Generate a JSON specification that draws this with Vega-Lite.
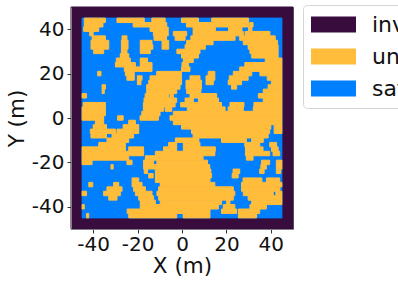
{"$schema":"https://vega.github.io/schema/vega-lite/v6.json","width":222,"height":222,"autosize":{"type":"none"},"padding":{"left":71,"top":7,"right":105,"bottom":54},"background":"white","config":{"font":"DejaVu Sans","view":{"stroke":"#7f7f7f"}},"datasets":{"runs":[
{"s":"invalid","a":-50,"b":50,"c":-50,"d":50},
{"s":"safe","a":-45,"b":45,"c":-45,"d":45},
{"s":"unsafe","a":-44,"b":-34.5,"c":43,"d":45},{"s":"unsafe","a":-29.3,"b":-17,"c":43,"d":45},{"s":"unsafe","a":-13.6,"b":-7.6,"c":43,"d":45},{"s":"unsafe","a":-0.2,"b":7.4,"c":43,"d":45},{"s":"unsafe","a":13.4,"b":30,"c":43,"d":45},
{"s":"unsafe","a":-44,"b":-35.6,"c":41,"d":43},{"s":"unsafe","a":-22,"b":-6.9,"c":41,"d":43},{"s":"unsafe","a":2,"b":30,"c":41,"d":43},{"s":"unsafe","a":30.5,"b":32,"c":41,"d":43},
{"s":"unsafe","a":-44.3,"b":-37.5,"c":39,"d":41},{"s":"unsafe","a":-14.4,"b":-6.2,"c":39,"d":41},{"s":"unsafe","a":5,"b":15,"c":39,"d":41},{"s":"unsafe","a":21,"b":27,"c":39,"d":41},{"s":"unsafe","a":30,"b":31.5,"c":39,"d":41},
{"s":"unsafe","a":-41.6,"b":-40,"c":37,"d":39},{"s":"unsafe","a":-12.9,"b":-6.2,"c":37,"d":39},{"s":"unsafe","a":-3.9,"b":2.1,"c":37,"d":39},{"s":"unsafe","a":5,"b":27.6,"c":37,"d":39},{"s":"unsafe","a":28.4,"b":39.6,"c":37,"d":39},
{"s":"unsafe","a":-40.5,"b":-34.5,"c":35,"d":37},{"s":"unsafe","a":-27,"b":-24.8,"c":35,"d":37},{"s":"unsafe","a":-12.6,"b":-7,"c":35,"d":37},{"s":"unsafe","a":-3.1,"b":1.4,"c":35,"d":37},{"s":"unsafe","a":4,"b":23.9,"c":35,"d":37},{"s":"unsafe","a":26,"b":42,"c":35,"d":37},
{"s":"unsafe","a":-41,"b":-33,"c":33,"d":35},{"s":"unsafe","a":-27.3,"b":-24.3,"c":33,"d":35},{"s":"unsafe","a":-18.8,"b":-13.5,"c":33,"d":35},{"s":"unsafe","a":-9,"b":-6,"c":33,"d":35},{"s":"unsafe","a":2.1,"b":14,"c":33,"d":35},{"s":"unsafe","a":27.6,"b":43,"c":33,"d":35},
{"s":"unsafe","a":-41,"b":-33,"c":31,"d":33},{"s":"unsafe","a":-27.3,"b":-24.3,"c":31,"d":33},{"s":"unsafe","a":-18.8,"b":-13.1,"c":31,"d":33},{"s":"unsafe","a":-9,"b":-6,"c":31,"d":33},{"s":"unsafe","a":1.4,"b":10.5,"c":31,"d":33},{"s":"unsafe","a":29.8,"b":43.3,"c":31,"d":33},
{"s":"unsafe","a":-39.8,"b":-35.3,"c":29,"d":31},{"s":"unsafe","a":-27.3,"b":-24.8,"c":29,"d":31},{"s":"unsafe","a":-18.8,"b":-14.3,"c":29,"d":31},{"s":"unsafe","a":-2.3,"b":8.1,"c":29,"d":31},{"s":"unsafe","a":30.6,"b":43.3,"c":29,"d":31},
{"s":"unsafe","a":-27.8,"b":-24,"c":27,"d":29},{"s":"unsafe","a":-0.2,"b":7.4,"c":27,"d":29},{"s":"unsafe","a":31.4,"b":43.3,"c":27,"d":29},
{"s":"unsafe","a":-29.6,"b":-23.3,"c":25,"d":27},{"s":"unsafe","a":-18.8,"b":-15.5,"c":25,"d":27},{"s":"unsafe","a":0.6,"b":5.1,"c":25,"d":27},{"s":"unsafe","a":37.5,"b":45,"c":25,"d":27},
{"s":"unsafe","a":-30,"b":-21,"c":23,"d":25},{"s":"unsafe","a":-18.8,"b":-13.5,"c":23,"d":25},{"s":"unsafe","a":0,"b":2.9,"c":23,"d":25},{"s":"unsafe","a":28.3,"b":45,"c":23,"d":25},
{"s":"unsafe","a":-26,"b":-13.5,"c":21,"d":23},{"s":"unsafe","a":-0.2,"b":3.6,"c":21,"d":23},{"s":"unsafe","a":26,"b":45,"c":21,"d":23},
{"s":"unsafe","a":-38,"b":-36.5,"c":19,"d":21},{"s":"unsafe","a":-25.5,"b":-21.5,"c":19,"d":21},{"s":"unsafe","a":-11.4,"b":-0.2,"c":19,"d":21},{"s":"unsafe","a":11.8,"b":14.8,"c":19,"d":21},{"s":"unsafe","a":23.1,"b":31.4,"c":19,"d":21},{"s":"unsafe","a":35.1,"b":45,"c":19,"d":21},
{"s":"unsafe","a":-24.8,"b":-21.5,"c":17,"d":19},{"s":"unsafe","a":-20.1,"b":-18,"c":17,"d":19},{"s":"unsafe","a":-14.4,"b":-0.2,"c":17,"d":19},{"s":"unsafe","a":3.6,"b":8.1,"c":17,"d":19},{"s":"unsafe","a":10.8,"b":14.8,"c":17,"d":19},{"s":"unsafe","a":21.3,"b":29.8,"c":17,"d":19},{"s":"unsafe","a":38.4,"b":45,"c":17,"d":19},
{"s":"unsafe","a":-20.1,"b":-18.5,"c":15,"d":17},{"s":"unsafe","a":-15,"b":-0.2,"c":15,"d":17},{"s":"unsafe","a":1.8,"b":8.8,"c":15,"d":17},{"s":"unsafe","a":10.8,"b":14.1,"c":15,"d":17},{"s":"unsafe","a":20.8,"b":26.8,"c":15,"d":17},{"s":"unsafe","a":40.3,"b":45,"c":15,"d":17},
{"s":"unsafe","a":-36,"b":-34.5,"c":13,"d":15},{"s":"unsafe","a":-15.9,"b":-0.9,"c":13,"d":15},{"s":"unsafe","a":1.8,"b":8.8,"c":13,"d":15},{"s":"unsafe","a":22.3,"b":24.6,"c":13,"d":15},{"s":"unsafe","a":38.8,"b":45,"c":13,"d":15},
{"s":"unsafe","a":-36,"b":-35,"c":11,"d":13},{"s":"unsafe","a":-15.9,"b":-2.4,"c":11,"d":13},{"s":"unsafe","a":2.1,"b":8.5,"c":11,"d":13},{"s":"unsafe","a":36.6,"b":45,"c":11,"d":13},
{"s":"unsafe","a":-45,"b":-43,"c":9,"d":11},{"s":"unsafe","a":-16.6,"b":-6.1,"c":9,"d":11},{"s":"unsafe","a":-5.4,"b":-3.9,"c":9,"d":11},{"s":"unsafe","a":3.6,"b":15.6,"c":9,"d":11},{"s":"unsafe","a":34.4,"b":45,"c":9,"d":11},
{"s":"unsafe","a":-17.1,"b":-2.4,"c":7,"d":9},{"s":"unsafe","a":1.4,"b":5.1,"c":7,"d":9},{"s":"unsafe","a":7.4,"b":16.4,"c":7,"d":9},{"s":"unsafe","a":36.6,"b":45,"c":7,"d":9},
{"s":"unsafe","a":-44.5,"b":-34.5,"c":5,"d":7},{"s":"unsafe","a":-17.4,"b":-3.1,"c":5,"d":7},{"s":"unsafe","a":-0.6,"b":17.8,"c":5,"d":7},{"s":"unsafe","a":21.6,"b":27.9,"c":5,"d":7},{"s":"unsafe","a":32.4,"b":45,"c":5,"d":7},
{"s":"unsafe","a":-45,"b":-34.5,"c":3,"d":5},{"s":"unsafe","a":-17.4,"b":-8.4,"c":3,"d":5},{"s":"unsafe","a":-7.6,"b":-4.6,"c":3,"d":5},{"s":"unsafe","a":2.4,"b":19.4,"c":3,"d":5},{"s":"unsafe","a":20.8,"b":27.6,"c":3,"d":5},{"s":"unsafe","a":32.1,"b":45,"c":3,"d":5},
{"s":"unsafe","a":-45,"b":-34.5,"c":1,"d":3},{"s":"unsafe","a":-18.1,"b":-9.9,"c":1,"d":3},{"s":"unsafe","a":-3.9,"b":45,"c":1,"d":3},
{"s":"unsafe","a":-45,"b":-35.3,"c":-1,"d":1},{"s":"unsafe","a":-29,"b":-26.5,"c":-1,"d":1},{"s":"unsafe","a":-18.9,"b":-10.6,"c":-1,"d":1},{"s":"unsafe","a":-5.4,"b":45,"c":-1,"d":1},
{"s":"unsafe","a":-39,"b":-35.3,"c":-3,"d":-1},{"s":"unsafe","a":-24,"b":-21,"c":-3,"d":-1},{"s":"unsafe","a":-3.9,"b":45,"c":-3,"d":-1},
{"s":"unsafe","a":-40,"b":-34,"c":-5,"d":-3},{"s":"unsafe","a":-26.5,"b":-19.5,"c":-5,"d":-3},{"s":"unsafe","a":-0.2,"b":40,"c":-5,"d":-3},{"s":"unsafe","a":41.5,"b":45,"c":-5,"d":-3},
{"s":"unsafe","a":-41.3,"b":-30,"c":-7,"d":-5},{"s":"unsafe","a":-29.3,"b":-19.5,"c":-7,"d":-5},{"s":"unsafe","a":4.3,"b":39.5,"c":-7,"d":-5},{"s":"unsafe","a":41.5,"b":45,"c":-7,"d":-5},
{"s":"unsafe","a":-41,"b":-34,"c":-9,"d":-7},{"s":"unsafe","a":-31.5,"b":-21.8,"c":-9,"d":-7},{"s":"unsafe","a":5,"b":38.8,"c":-9,"d":-7},
{"s":"unsafe","a":-33.8,"b":-24,"c":-11,"d":-9},{"s":"unsafe","a":-3,"b":7.6,"c":-11,"d":-9},{"s":"unsafe","a":17.8,"b":29,"c":-11,"d":-9},{"s":"unsafe","a":31.4,"b":36.6,"c":-11,"d":-9},
{"s":"unsafe","a":-37.5,"b":-25.5,"c":-13,"d":-11},{"s":"unsafe","a":-6,"b":-2.4,"c":-13,"d":-11},{"s":"unsafe","a":0.6,"b":8.1,"c":-13,"d":-11},{"s":"unsafe","a":28.3,"b":35,"c":-13,"d":-11},{"s":"unsafe","a":39.5,"b":42.6,"c":-13,"d":-11},
{"s":"unsafe","a":-45,"b":-25.5,"c":-15,"d":-13},{"s":"unsafe","a":-24,"b":-17.3,"c":-15,"d":-13},{"s":"unsafe","a":-8.3,"b":-2.4,"c":-15,"d":-13},{"s":"unsafe","a":0.6,"b":15,"c":-15,"d":-13},{"s":"unsafe","a":28.6,"b":36.5,"c":-15,"d":-13},{"s":"unsafe","a":40.3,"b":43.3,"c":-15,"d":-13},
{"s":"unsafe","a":-45,"b":-17.3,"c":-17,"d":-15},{"s":"unsafe","a":-12,"b":14.8,"c":-17,"d":-15},{"s":"unsafe","a":28.6,"b":39.5,"c":-17,"d":-15},{"s":"unsafe","a":41,"b":44,"c":-17,"d":-15},
{"s":"unsafe","a":-45,"b":-24,"c":-19,"d":-17},{"s":"unsafe","a":-16.5,"b":9.5,"c":-19,"d":-17},{"s":"unsafe","a":29,"b":32,"c":-19,"d":-17},
{"s":"unsafe","a":-45,"b":-40.5,"c":-21,"d":-19},{"s":"unsafe","a":-24.8,"b":-22.5,"c":-21,"d":-19},{"s":"unsafe","a":-17.3,"b":-12.8,"c":-21,"d":-19},{"s":"unsafe","a":-11.3,"b":11.5,"c":-21,"d":-19},{"s":"unsafe","a":35.8,"b":39.5,"c":-21,"d":-19},{"s":"unsafe","a":42.5,"b":45,"c":-21,"d":-19},
{"s":"unsafe","a":-32,"b":-31,"c":-23,"d":-21},{"s":"unsafe","a":-17.3,"b":12.5,"c":-23,"d":-21},{"s":"unsafe","a":35.5,"b":38,"c":-23,"d":-21},{"s":"unsafe","a":42.5,"b":45,"c":-23,"d":-21},
{"s":"unsafe","a":-17,"b":-15.5,"c":-25,"d":-23},{"s":"unsafe","a":-12,"b":13,"c":-25,"d":-23},{"s":"unsafe","a":23,"b":26,"c":-25,"d":-23},{"s":"unsafe","a":35,"b":37,"c":-25,"d":-23},{"s":"unsafe","a":42.5,"b":44.5,"c":-25,"d":-23},
{"s":"unsafe","a":-15,"b":-13,"c":-27,"d":-25},{"s":"unsafe","a":-12,"b":13.3,"c":-27,"d":-25},{"s":"unsafe","a":22.6,"b":25.3,"c":-27,"d":-25},
{"s":"unsafe","a":-22.5,"b":-19.5,"c":-29,"d":-27},{"s":"unsafe","a":-12,"b":12.6,"c":-29,"d":-27},{"s":"unsafe","a":27.5,"b":36,"c":-29,"d":-27},{"s":"unsafe","a":38,"b":44,"c":-29,"d":-27},
{"s":"unsafe","a":-42,"b":-40.2,"c":-31,"d":-29},{"s":"unsafe","a":-30.8,"b":-28.5,"c":-31,"d":-29},{"s":"unsafe","a":-22.5,"b":-18,"c":-31,"d":-29},{"s":"unsafe","a":-9.8,"b":14.8,"c":-31,"d":-29},{"s":"unsafe","a":26.8,"b":45,"c":-31,"d":-29},
{"s":"unsafe","a":-33.8,"b":-27,"c":-33,"d":-31},{"s":"unsafe","a":-21.8,"b":-16.5,"c":-33,"d":-31},{"s":"unsafe","a":-10.5,"b":23.1,"c":-33,"d":-31},{"s":"unsafe","a":26.8,"b":44.1,"c":-33,"d":-31},
{"s":"unsafe","a":-45,"b":-43,"c":-35,"d":-33},{"s":"unsafe","a":-35.3,"b":-27.8,"c":-35,"d":-33},{"s":"unsafe","a":-21,"b":-13.5,"c":-35,"d":-33},{"s":"unsafe","a":-11.3,"b":23.8,"c":-35,"d":-33},{"s":"unsafe","a":27.6,"b":41.1,"c":-35,"d":-33},{"s":"unsafe","a":42.3,"b":45,"c":-35,"d":-33},
{"s":"unsafe","a":-33,"b":-29.3,"c":-37,"d":-35},{"s":"unsafe","a":-19.5,"b":-12.8,"c":-37,"d":-35},{"s":"unsafe","a":-10.5,"b":23.1,"c":-37,"d":-35},{"s":"unsafe","a":29.8,"b":45,"c":-37,"d":-35},
{"s":"unsafe","a":-18.8,"b":-12,"c":-39,"d":-37},{"s":"unsafe","a":-9.8,"b":17.8,"c":-39,"d":-37},{"s":"unsafe","a":20.1,"b":21.6,"c":-39,"d":-37},{"s":"unsafe","a":31.4,"b":45,"c":-39,"d":-37},
{"s":"unsafe","a":-45,"b":-44,"c":-41,"d":-39},{"s":"unsafe","a":-18.8,"b":16.4,"c":-41,"d":-39},{"s":"unsafe","a":18.6,"b":23.8,"c":-41,"d":-39},{"s":"unsafe","a":30.6,"b":38,"c":-41,"d":-39},
{"s":"unsafe","a":-24.7,"b":12.6,"c":-43,"d":-41},{"s":"unsafe","a":17.8,"b":24.6,"c":-43,"d":-41},{"s":"unsafe","a":25.4,"b":35,"c":-43,"d":-41},
{"s":"unsafe","a":-43,"b":-42,"c":-45,"d":-43},{"s":"unsafe","a":-24,"b":-2.4,"c":-45,"d":-43},{"s":"unsafe","a":0.5,"b":12.6,"c":-45,"d":-43},{"s":"unsafe","a":25.4,"b":33.6,"c":-45,"d":-43}
]},"data":{"name":"runs"},"mark":{"type":"rect","strokeWidth":1},"encoding":{
"x":{"field":"a","type":"quantitative","scale":{"domain":[-50,50],"nice":false,"zero":false},"axis":{"values":[-40,-20,0,20,40],"grid":false,"labelExpr":"''+datum.value","labelFontSize":20,"labelColor":"#111","tickColor":"#333","tickSize":4,"domainColor":"#7f7f7f","title":"X (m)","titleFontSize":21.5,"titleFontWeight":"normal","titleColor":"#111","titlePadding":1,"labelPadding":1,"labelFlush":false,"zindex":1}},
"x2":{"field":"b"},
"y":{"field":"c","type":"quantitative","scale":{"domain":[-50,50],"nice":false,"zero":false},"axis":{"values":[-40,-20,0,20,40],"grid":false,"labelExpr":"''+datum.value","labelFontSize":20,"labelColor":"#111","tickColor":"#333","tickSize":4,"domainColor":"#7f7f7f","title":"Y (m)","titleFontSize":21.5,"titleFontWeight":"normal","titleColor":"#111","titlePadding":3,"labelPadding":3,"zindex":1}},
"y2":{"field":"d"},
"stroke":{"field":"s","type":"nominal","scale":{"domain":["invalid","unsafe","safe"],"range":["#380d3e","#ffbd3b","#0080ff"]},"legend":null},
"color":{"field":"s","type":"nominal","scale":{"domain":["invalid","unsafe","safe"],"range":["#380d3e","#ffbd3b","#0080ff"]},"legend":{"title":null,"orient":"none","legendX":232,"legendY":-2,"symbolType":"M-2,-0.71H2V0.71H-2Z","symbolSize":506,"symbolStrokeWidth":0,"symbolOpacity":1,"symbolOffset":11,"labelFontSize":22,"labelColor":"#111","labelOffset":27,"rowPadding":9,"padding":8,"strokeColor":"#d5d5d5","cornerRadius":4,"fillColor":"white"}}
}}
